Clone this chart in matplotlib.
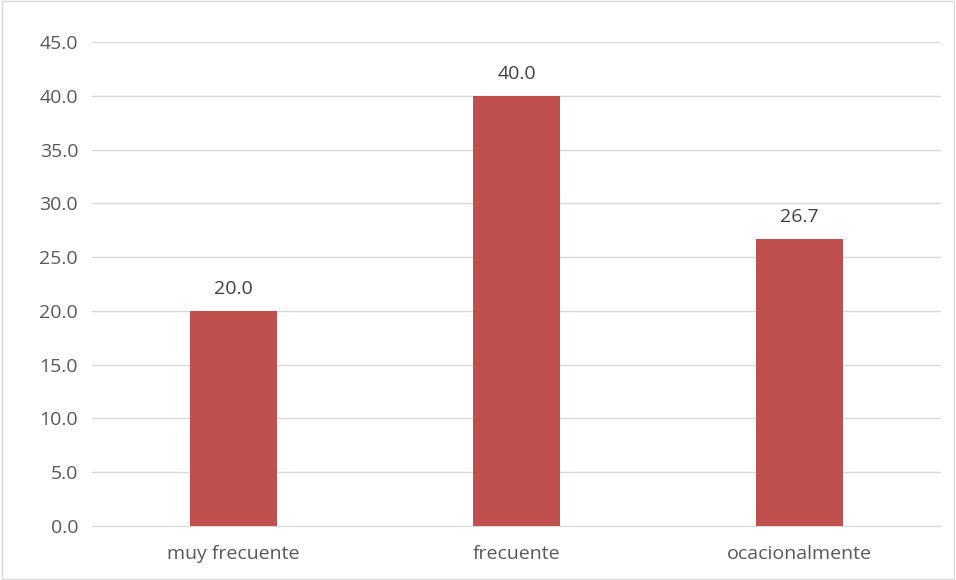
import matplotlib.pyplot as plt
from matplotlib.patches import Rectangle

categories = ["muy frecuente", "frecuente", "ocacionalmente"]
values = [20.0, 40.0, 26.7]
yticks = [0, 5, 10, 15, 20, 25, 30, 35, 40, 45]

plt.rcParams['font.family'] = ['Open Sans', 'DejaVu Sans']

fig = plt.figure(figsize=(9.56, 5.8), dpi=100)
ax = fig.add_axes([92 / 956, 1 - 526 / 580, 849 / 956, 484 / 580])

x = range(len(categories))
bars = ax.bar(x, values, width=0.31, color="#C0504D", zorder=3)

for b, v in zip(bars, values):
    ax.annotate(f"{v:.1f}", (b.get_x() + b.get_width() / 2, v),
                xytext=(0, 9), textcoords="offset points",
                ha="center", va="bottom", fontsize=14, color="#404040")

ax.set_xlim(-0.5, len(categories) - 0.5)
ax.set_ylim(0, 45)
ax.set_yticks(yticks)
ax.set_yticklabels([f"{t:.1f}" for t in yticks])
ax.set_xticks(list(x))
ax.set_xticklabels(categories)
ax.tick_params(axis="both", length=0, labelsize=14, colors="#595959")
ax.tick_params(axis="y", pad=10)
ax.tick_params(axis="x", pad=14)
ax.grid(axis="y", color="#D9D9D9", linewidth=1, zorder=0)
for s in ["top", "right", "left"]:
    ax.spines[s].set_visible(False)
ax.spines["bottom"].set_color("#D9D9D9")

fig.patches.append(Rectangle((0.002, 0.002), 0.996, 0.996, transform=fig.transFigure,
                             fill=False, edgecolor="#D9D9D9", linewidth=1))

fig.savefig("out.png", dpi=100)
